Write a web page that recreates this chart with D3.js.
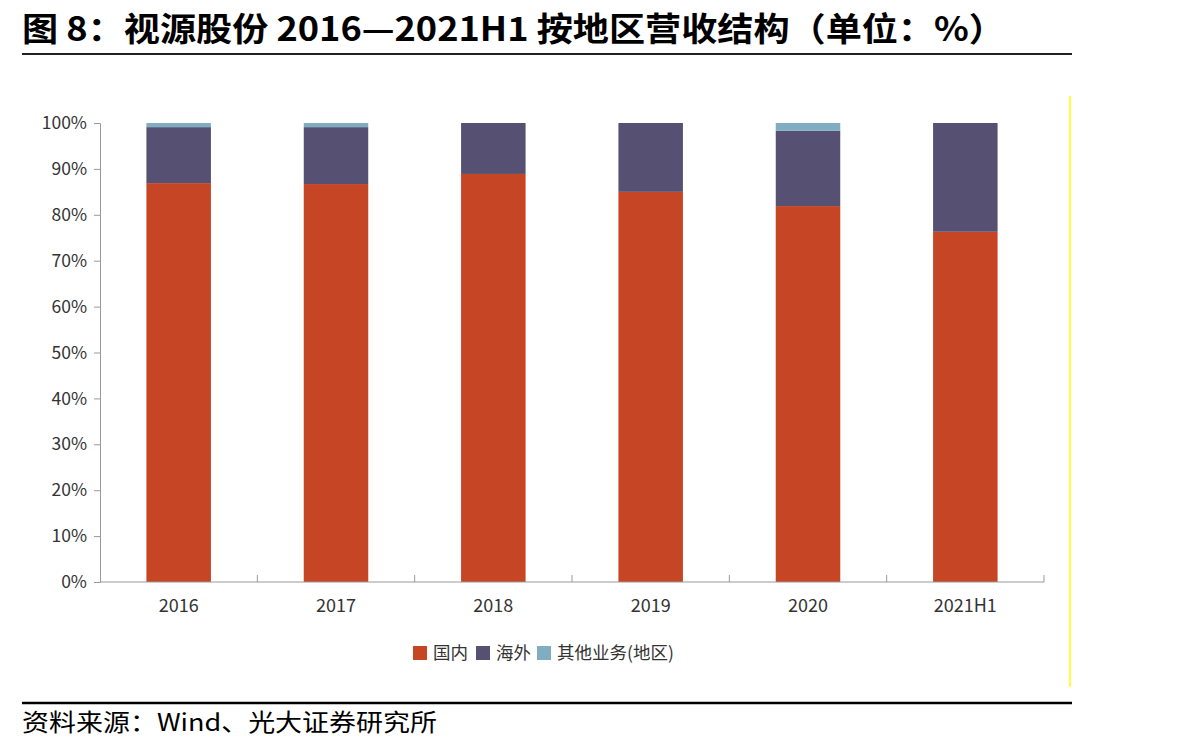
<!DOCTYPE html>
<html>
<head>
<meta charset="utf-8">
<script src="https://cdn.jsdelivr.net/npm/d3@7"></script>
<style>
  body { margin: 0; background: #fff; }
  svg text { font-family: "Noto Sans CJK SC", "Noto Sans", sans-serif; }
</style>
</head>
<body>
<div id="chart"></div>
<script>
const years = ["2016", "2017", "2018", "2019", "2020", "2021H1"];
const domestic = [86.9, 86.7, 88.9, 85.0, 81.9, 76.3];
const overseas = [12.2, 12.4, 11.1, 15.0, 16.4, 23.7];
const others = [0.9, 0.9, 0, 0, 1.7, 0];
const yTicks = [0, 10, 20, 30, 40, 50, 60, 70, 80, 90, 100];

const seriesNames = ["国内", "海外", "其他业务(地区)"];
const colors = ["#c64524", "#565172", "#80adc2"];

const W = 1204, H = 751;
const margin = {top: 123, left: 100, right: 160, bottom: 169};
const width = W - margin.left - margin.right;
const height = H - margin.top - margin.bottom;

const svg = d3.select("#chart").append("svg")
    .attr("width", W)
    .attr("height", H);

// title + rules
svg.append("text")
    .attr("x", 22).attr("y", 41)
    .attr("font-size", 33).attr("font-weight", "bold")
    .attr("fill", "#000")
    .attr("textLength", 983).attr("lengthAdjust", "spacingAndGlyphs")
    .text("图 8：视源股份 2016—2021H1 按地区营收结构（单位：%）");
svg.append("line").attr("x1", 22).attr("x2", 1072).attr("y1", 54).attr("y2", 54)
    .attr("stroke", "#222").attr("stroke-width", 2);
svg.append("line").attr("x1", 22).attr("x2", 1072).attr("y1", 703).attr("y2", 703)
    .attr("stroke", "#000").attr("stroke-width", 2.5);
svg.append("text")
    .attr("x", 22).attr("y", 731)
    .attr("font-size", 24).attr("fill", "#000")
    .attr("textLength", 415).attr("lengthAdjust", "spacingAndGlyphs")
    .text("资料来源：Wind、光大证券研究所");
svg.append("line").attr("x1", 1070).attr("x2", 1070).attr("y1", 96).attr("y2", 687)
    .attr("stroke", "#ffff00").attr("stroke-width", 1.5);

const g = svg.append("g").attr("transform", `translate(${margin.left},${margin.top})`);

const x = d3.scaleBand().domain(years).range([0, width]).paddingInner(0.59).paddingOuter(0.295);
const xb = d3.scaleBand().domain(years).range([0, width]);
const y = d3.scaleLinear().domain([0, 100]).range([height, 0]);

const table = years.map((yr, i) => ({year: yr, s0: domestic[i], s1: overseas[i], s2: others[i]}));
const stack = d3.stack().keys(["s0", "s1", "s2"])(table);

g.selectAll("g.layer").data(stack).enter().append("g")
    .attr("class", "layer")
    .attr("fill", (d, i) => colors[i])
    .selectAll("rect").data(d => d).enter().append("rect")
    .attr("x", d => x(d.data.year))
    .attr("width", x.bandwidth())
    .attr("y", d => y(d[1]))
    .attr("height", d => Math.max(0, y(d[0]) - y(d[1])));

// y axis
const axY = g.append("g")
    .call(d3.axisLeft(y).tickValues(yTicks).tickSize(6).tickPadding(7).tickFormat(d => d + "%"));
axY.select(".domain").attr("stroke", "#999");
axY.selectAll(".tick line").attr("stroke", "#999");
axY.selectAll(".tick text").attr("font-size", 17.5).attr("fill", "#333")
    .attr("font-family", "\"Noto Sans\", sans-serif");

// x axis
const axX = g.append("g").attr("transform", `translate(0,${height})`);
axX.append("line").attr("x1", 0).attr("x2", width).attr("stroke", "#999");
axX.selectAll("line.tk").data(years.slice(1).concat(["end"])).enter().append("line")
    .attr("class", "tk")
    .attr("x1", d => d === "end" ? width : xb(d)).attr("x2", d => d === "end" ? width : xb(d))
    .attr("y1", 0).attr("y2", -7).attr("stroke", "#999");
axX.selectAll("text").data(years).enter().append("text")
    .attr("x", d => xb(d) + xb.bandwidth() / 2)
    .attr("y", 30)
    .attr("text-anchor", "middle")
    .attr("font-size", 18).attr("fill", "#333")
    .attr("font-family", "\"Noto Sans\", sans-serif")
    .text(d => d);

// legend
const legendX = [413, 476, 537];
const lg = svg.append("g").selectAll("g").data(seriesNames).enter().append("g")
    .attr("transform", (d, i) => `translate(${legendX[i]},646)`);
lg.append("rect").attr("width", 14).attr("height", 14).attr("fill", (d, i) => colors[i]);
lg.append("text").attr("x", 20).attr("y", 13).attr("font-size", 17.5).attr("fill", "#333").text(d => d);
</script>
</body>
</html>
